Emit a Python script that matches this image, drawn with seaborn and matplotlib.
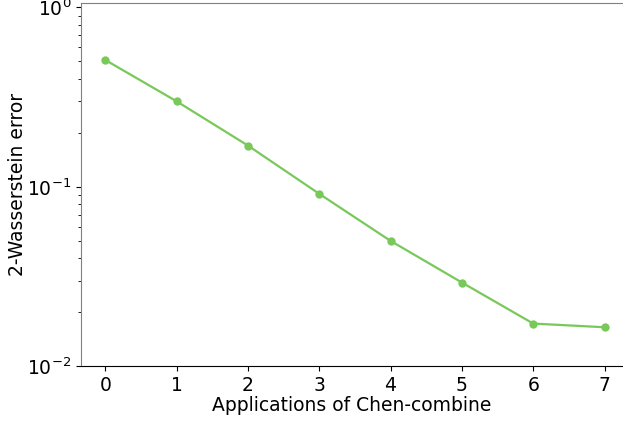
import matplotlib
matplotlib.use('Agg')
import matplotlib.pyplot as plt
import seaborn as sns
import pandas as pd

# values
applications = [0, 1, 2, 3, 4, 5, 6, 7]
w2_error = [0.51, 0.30, 0.17, 0.0915, 0.050, 0.0293, 0.0173, 0.0165]

df = pd.DataFrame({'Applications': applications, 'Error': w2_error})

sns.set_style('ticks')
plt.rcParams['font.family'] = ['DejaVu Sans']
plt.rcParams['text.color'] = 'black'
plt.rcParams['axes.labelcolor'] = 'black'
plt.rcParams['xtick.color'] = 'black'
plt.rcParams['ytick.color'] = 'black'

fig, ax = plt.subplots(figsize=(6.23, 4.21), dpi=100)
sns.lineplot(data=df, x='Applications', y='Error', color='#78c95a',
             marker='o', markersize=6, markeredgewidth=0, linewidth=1.6, ax=ax)
ax.set_yscale('log')
ax.set_ylim(1e-2, 1.06)
ax.set_xlim(-0.34, 7.25)
ax.set_xticks(applications)
ax.set_xlabel('Applications of Chen-combine', fontsize=13.5, labelpad=0.5)
ax.set_ylabel('2-Wasserstein error', fontsize=13.5, labelpad=0)
ax.tick_params(axis='both', which='major', labelsize=13.5)

ax.spines['right'].set_visible(False)
ax.spines['top'].set_color('#808080')
ax.spines['left'].set_color('#808080')
ax.spines['bottom'].set_color('black')

fig.subplots_adjust(left=0.13, right=0.999, top=0.993, bottom=0.13)
fig.savefig('out.png', dpi=100)
